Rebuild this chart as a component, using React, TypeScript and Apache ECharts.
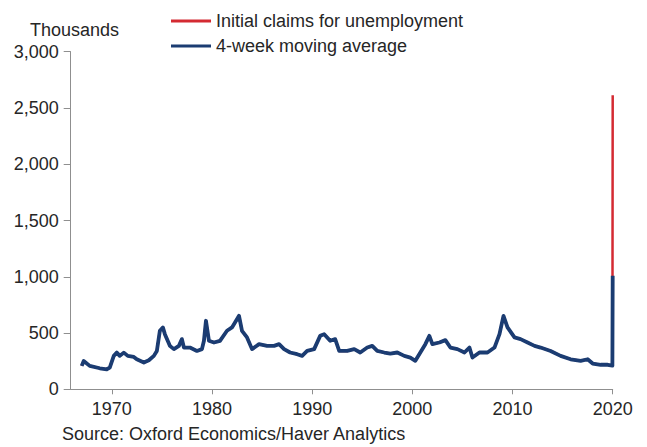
import React, { useEffect, useRef } from "react";
import * as echarts from "echarts";

// Year positions and 4-week moving average (thousands)
const avgYears = [
  1967.0, 1967.2, 1967.8, 1968.8, 1969.5, 1969.8, 1970.2, 1970.5, 1970.8, 1971.2,
  1971.6, 1972.2, 1972.5, 1973.2, 1973.7, 1974.2, 1974.5, 1974.8, 1975.1, 1975.3,
  1975.8, 1976.2, 1976.7, 1977.0, 1977.2, 1977.8, 1978.5, 1979.0, 1979.2, 1979.4,
  1979.7, 1980.2, 1980.8, 1981.5, 1982.0, 1982.3, 1982.7, 1983.0, 1983.5, 1984.0,
  1984.7, 1985.5, 1986.2, 1986.7, 1987.2, 1987.8, 1988.5, 1989.0, 1989.5, 1990.2,
  1990.8, 1991.2, 1991.8, 1992.3, 1992.7, 1993.5, 1994.2, 1994.8, 1995.5, 1996.0,
  1996.5, 1997.2, 1997.8, 1998.5, 1999.2, 1999.8, 2000.3, 2000.8, 2001.3, 2001.7,
  2002.0, 2002.7, 2003.3, 2003.8, 2004.5, 2005.2, 2005.7, 2006.0, 2006.7, 2007.5,
  2008.2, 2008.7, 2009.1, 2009.5, 2010.2, 2010.8, 2011.5, 2012.2, 2012.8, 2013.8,
  2014.8, 2015.8, 2016.8, 2017.5, 2018.0, 2018.8, 2019.5, 2019.97, 2020.0,
];
const avgValues = [
  208, 252, 208, 187, 178, 193, 297, 326, 297, 326,
  297, 288, 267, 238, 258, 297, 341, 520, 550, 490,
  386, 357, 386, 446, 371, 371, 341, 357, 431, 609,
  431, 416, 431, 520, 550, 594, 653, 520, 461, 357,
  401, 386, 386, 401, 357, 327, 312, 297, 341, 357,
  475, 490, 431, 446, 341, 341, 357, 327, 371, 386,
  341, 327, 318, 327, 297, 282, 253, 327, 401, 475,
  401, 416, 437, 371, 357, 327, 371, 282, 327, 327,
  371, 490, 653, 550, 461, 446, 416, 386, 371, 341,
  297, 267, 253, 267, 229, 218, 218, 210, 1010,
];
// Initial claims: same history, then the latest weekly print
const claimsSpikeYear = 2020.0;
const claimsSpikeValue = 2614;

const xTickYears = [1970, 1980, 1990, 2000, 2010, 2020];
const yTicks = [0, 500, 1000, 1500, 2000, 2500, 3000];

const BLUE = "#1b3c72";
const RED = "#d42a32";
const TEXT = "#262626";
const AXIS = "#8f8f8f";
const FONT = "Arial, 'Liberation Sans', sans-serif";

export default function App() {
  const ref = useRef<HTMLDivElement>(null);

  useEffect(() => {
    if (!ref.current) return;
    const chart = echarts.init(ref.current, undefined, { renderer: "svg" });

    const avgData = avgYears.map((y, i) => [y, avgValues[i]]);
    const claimsData = avgYears
      .slice(0, avgYears.length - 1)
      .map((y, i) => [y, avgValues[i]])
      .concat([[claimsSpikeYear, claimsSpikeValue]]);

    chart.setOption({
      animation: false,
      backgroundColor: "#ffffff",
      textStyle: { fontFamily: FONT },
      grid: { left: 70.7, right: 34.3, top: 51.7, bottom: 57.7, containLabel: false },
      legend: {
        orient: "vertical",
        left: 166,
        top: 7,
        itemWidth: 40,
        itemHeight: 3,
        itemGap: 7,
        icon: "rect",
        textStyle: { fontSize: 18, color: TEXT, fontFamily: FONT, lineHeight: 18 },
        data: ["Initial claims for unemployment", "4-week moving average"],
      },
      xAxis: {
        type: "value",
        min: 1965.9,
        max: 2020,
        splitLine: { show: false },
        axisLine: { show: true, lineStyle: { color: AXIS, width: 1 } },
        axisTick: {
          show: true,
          length: 5,
          lineStyle: { color: AXIS },
          customValues: xTickYears,
        },
        axisLabel: {
          fontSize: 18,
          color: TEXT,
          fontFamily: FONT,
          margin: 11,
          customValues: xTickYears,
          formatter: (v: number) => String(Math.round(v)),
        },
      },
      yAxis: {
        type: "value",
        min: 0,
        max: 3000,
        interval: 500,
        splitLine: { show: false },
        axisLine: { show: true, lineStyle: { color: AXIS, width: 1 } },
        axisTick: { show: true, length: 7, lineStyle: { color: AXIS } },
        axisLabel: {
          fontSize: 18,
          color: TEXT,
          fontFamily: FONT,
          margin: 12,
          formatter: (v: number) => v.toLocaleString("en-US"),
          customValues: yTicks,
        },
      },
      graphic: [
        {
          type: "text",
          left: 30,
          top: 21,
          style: { text: "Thousands", fontSize: 18, fill: TEXT, fontFamily: FONT },
        },
        {
          type: "text",
          left: 62,
          top: 425,
          style: {
            text: "Source: Oxford Economics/Haver Analytics",
            fontSize: 18,
            fill: TEXT,
            fontFamily: FONT,
          },
        },
      ],
      series: [
        {
          name: "Initial claims for unemployment",
          type: "line",
          data: claimsData,
          showSymbol: false,
          symbol: "none",
          z: 2,
          lineStyle: { color: RED, width: 2.5 },
          itemStyle: { color: RED },
        },
        {
          name: "4-week moving average",
          type: "line",
          data: avgData,
          showSymbol: false,
          symbol: "none",
          z: 3,
          lineStyle: { color: BLUE, width: 3.8, join: "round" },
          itemStyle: { color: BLUE },
        },
      ],
    });

    return () => chart.dispose();
  }, []);

  return (
    <div
      ref={ref}
      style={{ position: "fixed", left: 0, top: 0, width: 647, height: 447, background: "#fff" }}
    />
  );
}
